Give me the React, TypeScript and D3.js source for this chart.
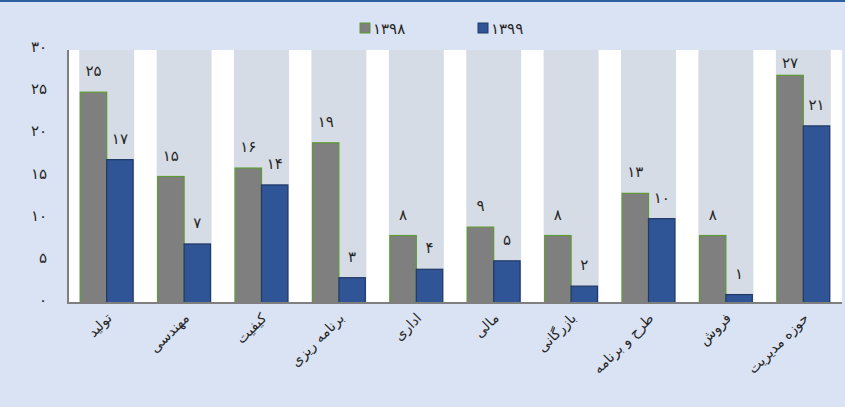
import React, { useEffect, useRef } from 'react';
import * as d3 from 'd3';

// Department counts, 1398 vs 1399

const categories = ['تولید', 'مهندسی', 'کیفیت', 'برنامه ریزی', 'اداری', 'مالی', 'بازرگانی', 'طرح و برنامه', 'فروش', 'حوزه مدیریت'];
const seriesNames = ['۱۳۹۸', '۱۳۹۹'];
const values1398 = [25, 15, 16, 19, 8, 9, 8, 13, 8, 27];
const values1399 = [17, 7, 14, 3, 4, 5, 2, 10, 1, 21];
const yTicks = [0, 5, 10, 15, 20, 25, 30];

const toFa = (n: number) => String(n).replace(/\d/g, d => '۰۱۲۳۴۵۶۷۸۹'[+d]);

const App = () => {
  const svgRef = useRef<SVGSVGElement>(null);

  useEffect(() => {
    const width = 845;
    const height = 407;
    const margin = { top: 50, right: 3, bottom: 104, left: 68 };
    const font = 'DejaVu Sans, sans-serif';

    const svg = d3.select(svgRef.current);
    svg.selectAll('*').remove();

    svg.append('rect').attr('width', width).attr('height', height).attr('fill', '#dae3f3');
    svg.append('rect').attr('width', width).attr('height', 2).attr('fill', '#2e5f9e');

    const x = d3.scaleBand<string>()
      .domain(categories)
      .range([margin.left, width - margin.right])
      .paddingInner(0.29)
      .paddingOuter(0.145);

    const y = d3.scaleLinear()
      .domain([0, 30])
      .range([height - margin.bottom, margin.top]);

    const inner = d3.scaleBand<string>()
      .domain(seriesNames)
      .range([0, x.bandwidth()])
      .paddingOuter(0.04);

    // plot area
    svg.append('rect')
      .attr('x', margin.left)
      .attr('y', margin.top)
      .attr('width', width - margin.right - margin.left)
      .attr('height', y(0) - margin.top)
      .attr('fill', '#ffffff');

    // category background columns
    svg.append('g').selectAll('rect')
      .data(categories)
      .enter()
      .append('rect')
      .attr('x', d => x(d)!)
      .attr('y', y(30))
      .attr('width', x.bandwidth())
      .attr('height', y(0) - y(30))
      .attr('fill', '#d6dce5');

    const series = [
      { name: seriesNames[0], values: values1398, fill: '#7f7f7f', stroke: '#5e9a34' },
      { name: seriesNames[1], values: values1399, fill: '#2f5597', stroke: '#1f3864' },
    ];

    series.forEach(s => {
      const g = svg.append('g');
      g.selectAll('rect')
        .data(s.values)
        .enter()
        .append('rect')
        .attr('x', (d, i) => x(categories[i])! + inner(s.name)!)
        .attr('y', d => y(d))
        .attr('width', inner.bandwidth())
        .attr('height', d => y(0) - y(d))
        .attr('fill', s.fill)
        .attr('stroke', s.stroke)
        .attr('stroke-width', 1.2);

      g.selectAll('text')
        .data(s.values)
        .enter()
        .append('text')
        .attr('x', (d, i) => x(categories[i])! + inner(s.name)! + inner.bandwidth() / 2)
        .attr('y', d => Math.max(y(d) - 16, 68))
        .attr('text-anchor', 'middle')
        .attr('font-family', font)
        .attr('font-size', 15)
        .attr('fill', '#262626')
        .text(d => toFa(d));
    });

    // y axis labels
    svg.append('g').selectAll('text')
      .data(yTicks)
      .enter()
      .append('text')
      .attr('x', 47)
      .attr('y', d => y(d) + 2)
      .attr('text-anchor', 'end')
      .attr('font-family', font)
      .attr('font-size', 15)
      .attr('fill', '#262626')
      .text(d => toFa(d));

    // axis lines
    svg.append('line')
      .attr('x1', margin.left).attr('x2', margin.left)
      .attr('y1', margin.top).attr('y2', y(0) + 1)
      .attr('stroke', '#7f7f7f').attr('stroke-width', 2);
    svg.append('line')
      .attr('x1', margin.left).attr('x2', width - margin.right)
      .attr('y1', y(0)).attr('y2', y(0))
      .attr('stroke', '#7f7f7f').attr('stroke-width', 2);

    // x category labels
    svg.append('g').selectAll('text')
      .data(categories)
      .enter()
      .append('text')
      .attr('transform', d => `translate(${x(d)! + x.bandwidth() / 2 + 6}, ${y(0) + 16}) rotate(-45)`)
      .attr('text-anchor', 'end')
      .attr('font-family', font)
      .attr('font-size', 14)
      .attr('fill', '#262626')
      .text(d => d);

    // legend
    const legend = svg.append('g');
    const legendX = [360, 478];
    series.forEach((s, i) => {
      legend.append('rect')
        .attr('x', legendX[i])
        .attr('y', 23)
        .attr('width', 10)
        .attr('height', 10)
        .attr('fill', s.fill)
        .attr('stroke', s.stroke);
      legend.append('text')
        .attr('x', legendX[i] + 13)
        .attr('y', 34)
        .attr('font-family', font)
        .attr('font-size', 15)
        .attr('fill', '#262626')
        .text(s.name);
    });
  }, []);

  return (
    <svg
      ref={svgRef}
      width="845"
      height="407"
      style={{ position: 'absolute', left: 0, top: 0 }}
    />
  );
};

export default App;
